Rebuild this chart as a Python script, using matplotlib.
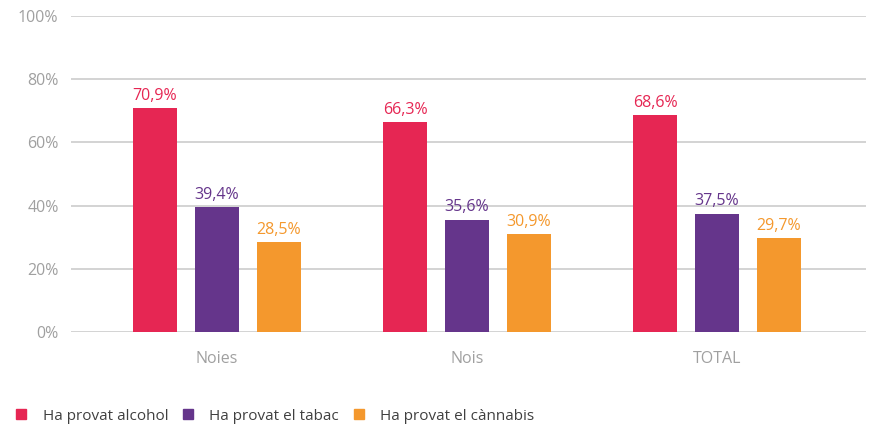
import numpy as np
import matplotlib.pyplot as plt
from matplotlib.lines import Line2D

plt.rcParams['font.family'] = ['Open Sans', 'DejaVu Sans']

categories = ['Noies', 'Nois', 'TOTAL']
series = ['Ha provat alcohol', 'Ha provat el tabac', 'Ha provat el cànnabis']
alcohol = [70.9, 66.3, 68.6]
tabac = [39.4, 35.6, 37.5]
cannabis = [28.5, 30.9, 29.7]
colors = ['#E62653', '#65358B', '#F4982D']

fig = plt.figure(figsize=(8.72, 4.28), dpi=100)
ax = fig.add_axes([71/872, 96/428, 795/872, 316/428])

x = np.arange(len(categories))
width = 0.176
offsets = [-0.248, 0, 0.248]

for vals, off, col in zip([alcohol, tabac, cannabis], offsets, colors):
    ax.bar(x + off, vals, width, color=col, zorder=3)
    for xi, v in zip(x, vals):
        ax.text(xi + off, v + 1.3, f'{v:.1f}%'.replace('.', ','), ha='center', va='bottom',
                color=col, fontsize=11.5)

ax.set_xlim(-0.584, 2.596)
ax.set_ylim(0, 100)
ax.set_yticks(range(0, 101, 20))
ax.set_yticklabels([f'{t}%' for t in range(0, 101, 20)])
ax.set_xticks(x)
ax.set_xticklabels(categories)
ax.grid(axis='y', color='#cccccc', linewidth=1.2, zorder=0)
for s in ax.spines.values():
    s.set_visible(False)
ax.tick_params(length=0, colors='#a0a0a0', labelsize=11.5)
ax.tick_params(axis='y', pad=9)
ax.tick_params(axis='x', pad=14)

handles = [Line2D([], [], marker='s', linestyle='', color=c, markersize=7) for c in colors]
fig.legend(handles, series, loc='center left', bbox_to_anchor=(-0.009, 1 - 416/428), ncol=3,
           frameon=False, fontsize=11, handletextpad=0.4, columnspacing=0.3, labelcolor='#404040')

fig.savefig('out.png', dpi=100)
